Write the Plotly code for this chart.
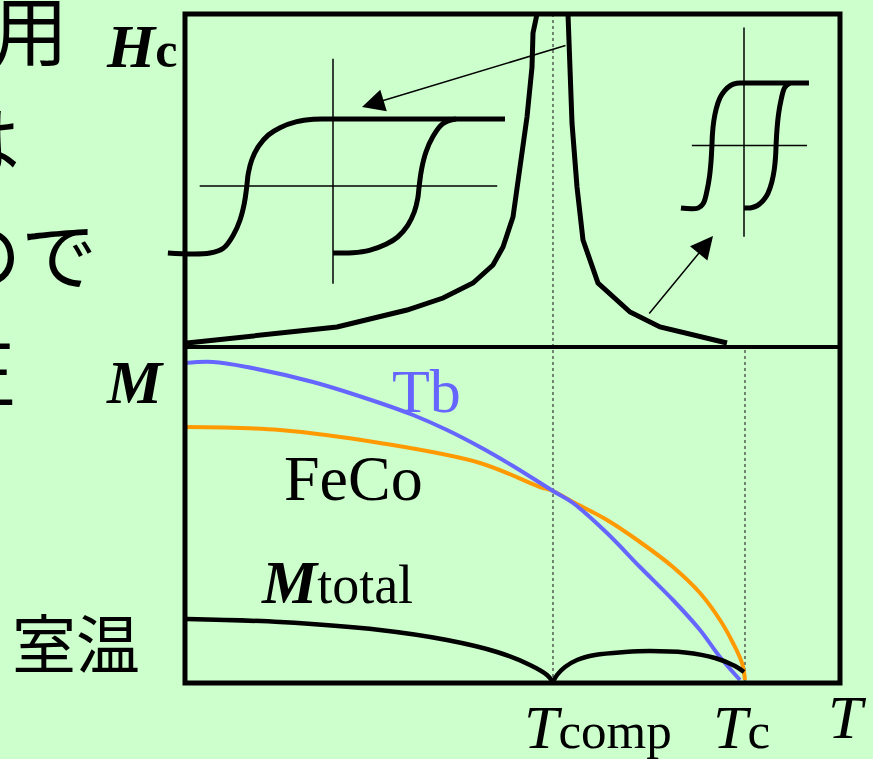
import plotly.graph_objects as go

# ---------------- data (arbitrary units) ----------------
T_COMP = 368          # compensation temperature
T_CURIE = 560         # Curie temperature

# coercivity Hc(T): branch below and above T_comp
hc_T_low = [2, 152, 222, 258, 288, 308, 318, 328, 335, 342, 347, 348, 352]
hc_low = [4, 20, 37, 49, 64, 82, 100, 130, 180, 230, 280, 314, 333]
hc_T_high = [383, 385, 387, 392, 398, 413, 445, 475, 542]
hc_high = [333, 280, 224, 160, 107, 64, 35, 20, 4]

# sub-lattice magnetisations
tb_T = [0, 28, 62, 128, 195, 228, 262, 295, 328, 368, 388, 422, 455, 488, 515, 535, 555]
tb_M = [320, 321, 316, 301, 280, 268, 253, 236, 217, 192, 180, 150, 116, 83, 53, 26, 3]
feco_T = [0, 95, 195, 295, 355, 368, 388, 422, 455, 488, 515, 535, 548, 557, 560]
feco_M = [256, 253, 240, 220, 196, 192, 181, 163, 141, 116, 90, 63, 40, 20, 3]
mtot_T_low = [2, 95, 195, 262, 312, 345, 362, 368]
mtot_low = [64, 61, 53, 43, 31, 18, 8, 1]
mtot_T_high = [368, 372, 380, 392, 410, 440, 465, 500, 530, 550, 559]
mtot_high = [1, 8, 16, 23, 28, 31, 32, 30.5, 25, 17, 11]

# hysteresis-loop shape (normalised field h, magnetisation m), ascending branch
loop_h = [-1.43, -1.276, -1.159, -1.081, -1.031, -1.003, -0.985, -0.945, -0.869,
          -0.752, -0.616, -0.422, -0.229, -0.073, 0.0]
loop_m = [-1.0, -0.93, -0.731, -0.507, -0.258, -0.01, 0.189, 0.388, 0.587,
          0.761, 0.87, 0.96, 0.996, 1.0, 1.0]

# inset loops: centre T, centre Hc, field scale, magnetisation scale, flat ends
loops = [
    dict(cx=148, cy=161, sh=86, sm=67, left=-1.92, right=2.0, ax=(-1.55, 1.91), ay=(-1.46, 1.9)),
    dict(cx=559, cy=201.5, sh=32, sm=62.5, left=-1.97, right=2.03, ax=(-1.63, 1.97), ay=(-1.46, 1.89)),
]

W, H = 873, 759
BG = "#CCFFCC"
SERIF = "Liberation Serif"
JP = "Noto Sans CJK JP"


def px(xp):
    return xp / W


def py(yp):
    return 1 - yp / H


fig = go.Figure()

# Hc curve
for tx, ty in ((hc_T_low, hc_low), (hc_T_high, hc_high)):
    fig.add_trace(go.Scatter(x=tx, y=ty, yaxis="y2", mode="lines",
                             line=dict(color="black", width=5), hoverinfo="skip"))

# inset hysteresis loops
for L in loops:
    xs, ys = [], []
    xs += [L["cx"] + L["left"] * L["sh"]]
    ys += [L["cy"] - L["sm"]]
    xs += [L["cx"] + h * L["sh"] for h in loop_h]
    ys += [L["cy"] + m * L["sm"] for m in loop_m]
    xs += [L["cx"] + L["right"] * L["sh"]]
    ys += [L["cy"] + L["sm"]]
    fig.add_trace(go.Scatter(x=xs, y=ys, yaxis="y2", mode="lines", line_shape="spline",
                             line=dict(color="black", width=5, smoothing=1.1), hoverinfo="skip"))
    xd = [L["cx"] - h * L["sh"] for h in loop_h]
    yd = [L["cy"] - m * L["sm"] for m in loop_m]
    fig.add_trace(go.Scatter(x=xd, y=yd, yaxis="y2", mode="lines", line_shape="spline",
                             line=dict(color="black", width=5, smoothing=1.1), hoverinfo="skip"))
    fig.add_trace(go.Scatter(x=[L["cx"] + L["ax"][0] * L["sh"], L["cx"] + L["ax"][1] * L["sh"]],
                             y=[L["cy"], L["cy"]], yaxis="y2", mode="lines",
                             line=dict(color="black", width=1.5), hoverinfo="skip"))
    fig.add_trace(go.Scatter(x=[L["cx"], L["cx"]],
                             y=[L["cy"] + L["ay"][0] * L["sm"], L["cy"] + L["ay"][1] * L["sm"]],
                             yaxis="y2", mode="lines",
                             line=dict(color="black", width=1.5), hoverinfo="skip"))

# magnetisation curves
fig.add_trace(go.Scatter(x=feco_T, y=feco_M, mode="lines", line_shape="spline",
                         line=dict(color="#FF9900", width=4), hoverinfo="skip"))
fig.add_trace(go.Scatter(x=tb_T, y=tb_M, mode="lines", line_shape="spline",
                         line=dict(color="#6666FF", width=4), hoverinfo="skip"))
for tx, ty in ((mtot_T_low, mtot_low), (mtot_T_high, mtot_high)):
    fig.add_trace(go.Scatter(x=tx, y=ty, mode="lines", line_shape="spline",
                             line=dict(color="black", width=4.5), hoverinfo="skip"))

shapes = [
    dict(type="line", xref="x", yref="paper", x0=T_COMP, x1=T_COMP, y0=py(683), y1=py(14),
         line=dict(color="#333333", width=1.2, dash="dot"), layer="below"),
    dict(type="line", xref="x", yref="paper", x0=T_CURIE, x1=T_CURIE, y0=py(683), y1=py(347),
         line=dict(color="#333333", width=1.2, dash="dot"), layer="below"),
    dict(type="rect", xref="paper", yref="paper", x0=px(185), x1=px(840), y0=py(683), y1=py(14),
         line=dict(color="black", width=5), layer="above"),
    dict(type="line", xref="paper", yref="paper", x0=px(185), x1=px(840), y0=py(347), y1=py(347),
         line=dict(color="black", width=4), layer="above"),
]

annotations = [
    dict(x=177, y=240, xref="x", yref="y2", ax=382, ay=302, axref="x", ayref="y2",
         showarrow=True, arrowhead=2, arrowsize=3, arrowwidth=1.5, arrowcolor="black", text="",
         standoff=0),
    dict(x=528, y=111, xref="x", yref="y2", ax=463, ay=32, axref="x", ayref="y2",
         showarrow=True, arrowhead=2, arrowsize=3, arrowwidth=1.5, arrowcolor="black", text="",
         standoff=0),
]


def label(text, x, y, size, color="black", family=SERIF, anchor="left"):
    annotations.append(dict(text=text, x=px(x), y=py(y), xref="paper", yref="paper",
                            xanchor=anchor, yanchor="middle", showarrow=False,
                            font=dict(family=family, size=size, color=color)))


# Japanese text (partly cut at the left edge)
label("用", 70, 27, 76, family=JP, anchor="right")
label("は", 22, 137, 76, family=JP, anchor="right")
label("ので", 99, 251, 76, family=JP, anchor="right")
label("正", 18, 369, 76, family=JP, anchor="right")
label("室温", 10, 640, 64, family=JP)

label("<b><i>H</i></b><b><span style='font-size:50px'>c</span></b>", 104, 46, 62)
label("<b><i>M</i></b>", 104, 382, 62)
label("Tb", 390, 391, 62, color="#6666FF")
label("FeCo", 282, 479, 64)
label("<b><i>M</i></b><span style='font-size:54px'>total</span>", 259, 582, 62)
label("<i>T</i><span style='font-size:51px'>comp</span>", 522, 727, 62)
label("<i>T</i><span style='font-size:51px'>c</span>", 711, 727, 62)
label("<i>T</i>", 826, 717, 62)

fig.update_layout(
    width=W, height=H,
    margin=dict(l=0, r=0, t=0, b=0),
    paper_bgcolor=BG, plot_bgcolor=BG,
    showlegend=False,
    xaxis=dict(domain=[0, 1], range=[-185, W - 185], visible=False, fixedrange=True),
    yaxis=dict(domain=[0, py(347)], range=[683 - H, 683 - 347], visible=False, fixedrange=True),
    yaxis2=dict(domain=[py(347), 1], range=[0, 347], visible=False, fixedrange=True, anchor="x"),
    shapes=shapes,
    annotations=annotations,
)

fig.write_html("out.html", config={"displayModeBar": False},
               post_script="document.body.style.margin='0';document.body.style.padding='0';"
                           "document.body.style.background='%s';" % BG)
